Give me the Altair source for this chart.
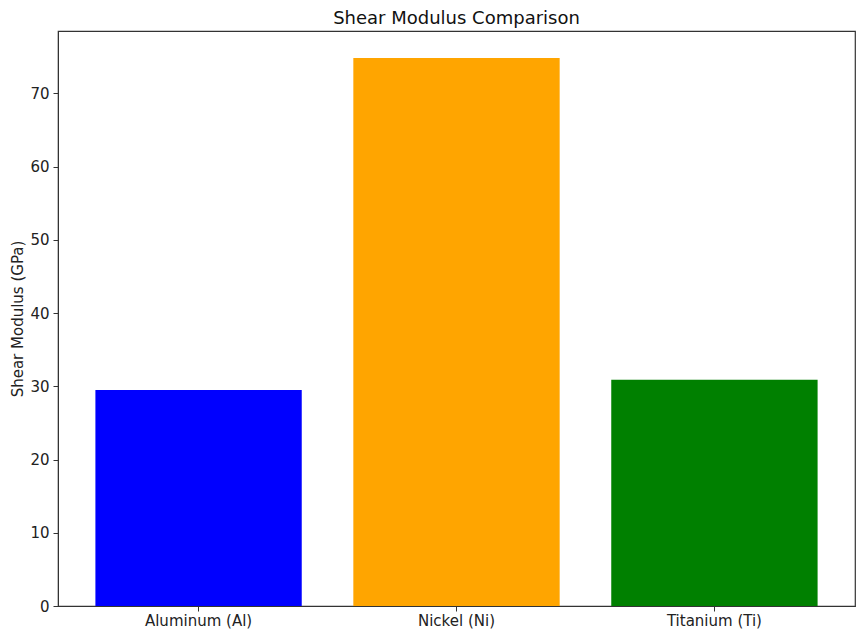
import altair as alt
import pandas as pd

materials = ["Aluminum (Al)", "Nickel (Ni)", "Titanium (Ti)"]
shear_modulus = [29.5, 74.8, 30.9]
colors = ["#0000ff", "#ffa500", "#008000"]

df = pd.DataFrame({"Material": materials, "G": shear_modulus, "color": colors})

chart = alt.Chart(df).mark_bar().encode(
    x=alt.X("Material:N", sort=materials,
            scale=alt.Scale(paddingInner=0.2, paddingOuter=0.145),
            axis=alt.Axis(title=None, labelAngle=0, labelFontSize=15, labelColor="#222",
                          tickColor="#333", domainColor="#333", tickSize=5, labelPadding=2)),
    y=alt.Y("G:Q", scale=alt.Scale(domain=[0, 78.5], nice=False),
            axis=alt.Axis(title="Shear Modulus (GPa)", values=[0, 10, 20, 30, 40, 50, 60, 70],
                          grid=False, labelFontSize=15, titleFontSize=15, titleFontWeight="normal",
                          labelColor="#222", titleColor="#222", tickColor="#333", domainColor="#333",
                          tickSize=5, labelPadding=4, titlePadding=4)),
    color=alt.Color("color:N", scale=None),
).properties(
    width=797, height=575,
    title=alt.TitleParams("Shear Modulus Comparison", fontSize=18, fontWeight="normal",
                          color="#111", offset=3),
    autosize=alt.AutoSizeParams(type="none"),
    padding={"left": 50, "top": 23, "right": 2, "bottom": 25},
).configure(font="DejaVu Sans").configure_view(stroke="#333", strokeWidth=1.2)

chart.save("out.html", embed_options={"renderer": "svg", "actions": False})
